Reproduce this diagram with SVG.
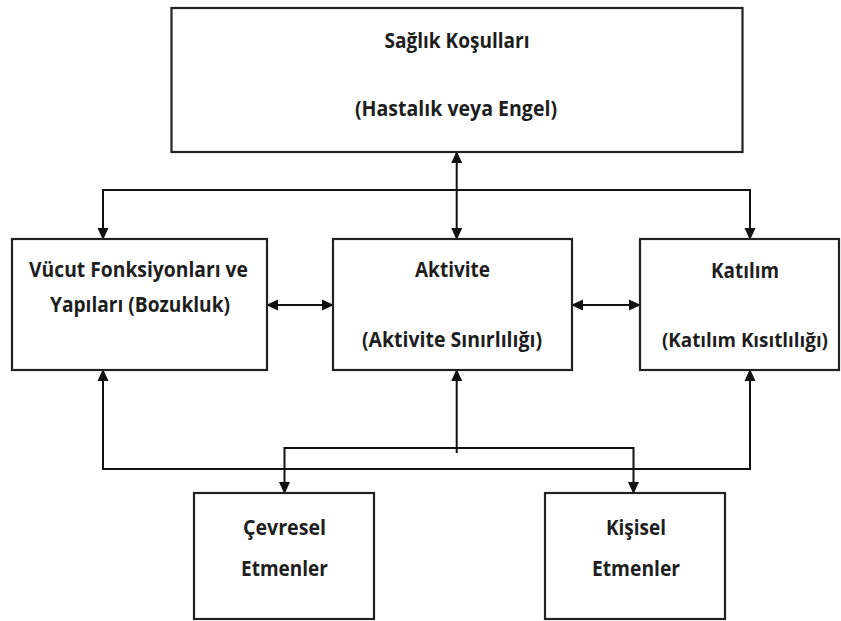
<svg xmlns="http://www.w3.org/2000/svg" width="841" height="621" viewBox="0 0 841 621">
<style>
.box{fill:#fff;stroke:#222;stroke-width:2.2}
.t{font-family:"Open Sans","Liberation Sans",sans-serif;font-weight:700;font-size:21px;fill:#1e1e1e;text-anchor:middle}
.s{font-size:19.5px}
.c{fill:none;stroke:#111;stroke-width:2}
</style>
<defs>
<marker id="ah" viewBox="0 0 12 12" refX="11" refY="6" markerWidth="12" markerHeight="12" markerUnits="userSpaceOnUse" orient="auto-start-reverse">
<path d="M0,0.5 L12,6 L0,11.5 Z" fill="#111"/>
</marker>
</defs>
<rect width="841" height="621" fill="#fff"/>
<g id="connectors">
<path class="c" d="M456.7,152 V239" marker-start="url(#ah)" marker-end="url(#ah)"/>
<path class="c" d="M103,239 V190 H750 V239" marker-start="url(#ah)" marker-end="url(#ah)"/>
<path class="c" d="M267,305 H333" marker-start="url(#ah)" marker-end="url(#ah)"/>
<path class="c" d="M572,305 H640" marker-start="url(#ah)" marker-end="url(#ah)"/>
<path class="c" d="M103,370 V469 H750 V370" marker-start="url(#ah)" marker-end="url(#ah)"/>
<path class="c" d="M456.7,370 V453" marker-start="url(#ah)"/>
<path class="c" d="M284.5,493 V448 H633.5 V493" marker-start="url(#ah)" marker-end="url(#ah)"/>
</g>
<g id="saglik">
<rect class="box" x="171.5" y="8" width="571" height="144"/>
<text class="t" x="457" y="48" textLength="145" lengthAdjust="spacingAndGlyphs">Sağlık Koşulları</text>
<text class="t" x="456" y="116" textLength="202" lengthAdjust="spacingAndGlyphs">(Hastalık veya Engel)</text>
</g>
<g id="vucut">
<rect class="box" x="12" y="239" width="255" height="131"/>
<text class="t" x="138.5" y="277" textLength="219" lengthAdjust="spacingAndGlyphs">Vücut Fonksiyonları ve</text>
<text class="t" x="140" y="312" textLength="180" lengthAdjust="spacingAndGlyphs">Yapıları (Bozukluk)</text>
</g>
<g id="aktivite">
<rect class="box" x="333" y="239" width="239" height="131"/>
<text class="t" x="452.5" y="277" textLength="75" lengthAdjust="spacingAndGlyphs">Aktivite</text>
<text class="t" x="452" y="347" textLength="180" lengthAdjust="spacingAndGlyphs">(Aktivite Sınırlılığı)</text>
</g>
<g id="katilim">
<rect class="box" x="640" y="239" width="199" height="131"/>
<text class="t" x="745" y="278" textLength="68" lengthAdjust="spacingAndGlyphs">Katılım</text>
<text class="t s" x="745" y="347" textLength="166" lengthAdjust="spacingAndGlyphs">(Katılım Kısıtlılığı)</text>
</g>
<g id="cevresel">
<rect class="box" x="194" y="493" width="180" height="126"/>
<text class="t" x="284.5" y="535" textLength="83" lengthAdjust="spacingAndGlyphs">Çevresel</text>
<text class="t" x="284.5" y="576" textLength="87" lengthAdjust="spacingAndGlyphs">Etmenler</text>
</g>
<g id="kisisel">
<rect class="box" x="545" y="493" width="180" height="126"/>
<text class="t" x="636" y="535" textLength="60" lengthAdjust="spacingAndGlyphs">Kişisel</text>
<text class="t" x="636" y="576" textLength="88" lengthAdjust="spacingAndGlyphs">Etmenler</text>
</g>
</svg>
